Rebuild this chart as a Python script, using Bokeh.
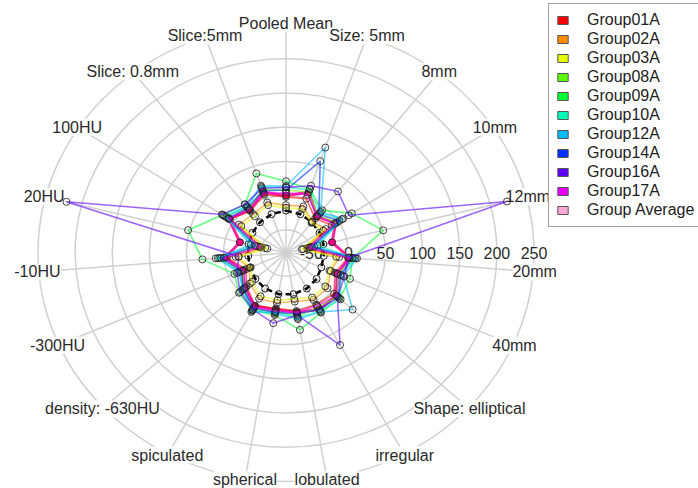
import math
from bokeh.plotting import figure
from bokeh.models import ColumnDataSource, Range1d, LabelSet, Legend, LegendItem
from bokeh.core.properties import value
from bokeh.embed import file_html
from bokeh.resources import INLINE

# ---------------- data ----------------
spokes = ["Pooled Mean", "Size: 5mm", "8mm", "10mm", "12mm", "20mm", "40mm",
          "Shape: elliptical", "irregular", "lobulated", "spherical", "spiculated",
          "density: -630HU", "-300HU", "-10HU", "20HU", "100HU", "Slice: 0.8mm", "Slice:5mm"]
radial_ticks = [-50, 0, 50, 100, 150, 200, 250]
radial_min = -84

group_names = ["Group01A", "Group02A", "Group03A", "Group08A", "Group09A", "Group10A",
               "Group12A", "Group14A", "Group16A", "Group17A", "Group Average"]
group_colors = ["#FF0000", "#FF8B00", "#E8FF00", "#5DFF00", "#00FF2E", "#00FFB9",
                "#00B9FF", "#002EFF", "#5D00FF", "#E800FF", "#FF008B"]

group01a = [-2, 0, -20, -10, -55, 0, -12, 4, 2, 2, -2, 4, -12, -25, -4, -50, 6, -6, 6]
group02a = [-14, -12, -26, -20, -60, -12, -18, -8, -6, -12, -10, -8, -18, -30, -16, -55, -8, -12, -6]
group03a = [-18, -16, -28, -24, -62, -16, -20, -12, -10, -16, -14, -12, -22, -32, -20, -58, -12, -16, -10]
group08a = [8, 10, -15, -2, -50, 8, -8, 10, 6, 10, 2, 10, -8, -20, 6, -45, 14, -2, 14]
group09a = [21, 15, -5, 22, 51, 6, 10, 14, 15, 30, 8, 11, 2, -8, 29, 52, 18, 6, 39]
group10a = [12, 14, -10, 6, -40, 10, -4, 16, 12, 12, 4, 14, -4, -16, 11, -40, 16, 2, 18]
group12a = [14, 79, -8, 8, -45, 12, 0, 38, 14, 14, 6, 12, -6, -14, 8, -35, 12, 2, 20]
group14a = [8, 58, -12, 2, -48, 6, -4, 12, 10, 6, 4, 8, -6, -18, 4, -42, 8, 0, 12]
group16a = [12, 20, 30, 17, 223, 0, 2, 10, 69, 8, 20, 10, 0, -12, -20, 221, 19, 6, 16]
group17a = [4, 6, -16, -6, -52, 2, -10, 8, 4, 4, 2, 6, -10, -22, 0, -48, 8, -4, 8]
group_average = [0, 10, -16, -4, -20, 2, -8, 8, 10, 4, 0, 4, -8, -20, -2, -20, 8, -4, 10]
pooled_reference = [-22, -24, -27, -30, -32, -33, -32, -28, -25, -23, -23, -25, -28, -31, -33, -32, -30, -27, -24]

series = [group01a, group02a, group03a, group08a, group09a, group10a,
          group12a, group14a, group16a, group17a, group_average]

# ---------------- geometry helpers ----------------
n = len(spokes)
theta = [2 * math.pi * i / n for i in range(n)]
r_max = radial_ticks[-1] - radial_min


def polar(vals, closed=True):
    xs = [(v - radial_min) * math.sin(t) for v, t in zip(vals, theta)]
    ys = [(v - radial_min) * math.cos(t) for v, t in zip(vals, theta)]
    if closed:
        xs.append(xs[0])
        ys.append(ys[0])
    return xs, ys


# screen scale: x 0.7425 px/unit, y 0.684 px/unit (stretched polar plot)
W, H = 698, 488
cx, cy = 285.5, 252.5
kx, ky = 0.7425, 0.684
p = figure(width=W, height=H, output_backend="svg", toolbar_location=None,
           x_range=Range1d(-cx / kx, (W - cx) / kx),
           y_range=Range1d(-(H - cy) / ky, cy / ky),
           min_border=0, min_border_left=0, min_border_right=0,
           min_border_top=0, min_border_bottom=0)
p.axis.visible = False
p.grid.visible = False
p.outline_line_color = None
p.background_fill_color = "white"
p.border_fill_color = "white"

font = "Liberation Sans"
grid_col = "#D0D0D0"
# grid circles
rad = [t - radial_min for t in radial_ticks]
p.ellipse(x=[0] * len(rad), y=[0] * len(rad), width=[2 * r for r in rad],
          height=[2 * r for r in rad], fill_color=None, line_color=grid_col,
          line_width=1.5, level="image")
# spokes
p.segment(x0=[0] * n, y0=[0] * n,
          x1=[r_max * math.sin(t) for t in theta],
          y1=[r_max * math.cos(t) for t in theta],
          line_color=grid_col, line_width=1.5, level="image")

# spoke labels
lab_r = r_max + 2
lab_src = ColumnDataSource(dict(x=[lab_r * math.sin(t) for t in theta],
                                y=[lab_r * math.cos(t) for t in theta],
                                text=spokes))
p.add_layout(LabelSet(x="x", y="y", text="text", source=lab_src,
                      text_align="center", text_baseline="middle",
                      text_font=value(font), text_font_size="16px",
                      text_color="#2A2A2A", background_fill_color="white",
                      level="underlay"))

# radial labels
rl_src = ColumnDataSource(dict(x=rad, y=[0] * len(rad), text=[str(t) for t in radial_ticks]))
p.add_layout(LabelSet(x="x", y="y", text="text", source=rl_src,
                      text_align="center", text_baseline="middle",
                      text_font=value(font), text_font_size="16px",
                      text_color="#2A2A2A", background_fill_color="white",
                      level="underlay"))

# pooled reference dashed line
xs, ys = polar(pooled_reference)
p.line(xs, ys, line_color="black", line_width=2.5, line_dash="6 4")
p.scatter(xs[:-1], ys[:-1], size=7, marker="circle", fill_color=None,
          line_color="#222222", line_width=1)

# group average first (thick), then groups
xs, ys = polar(group_average)
p.line(xs, ys, line_color=group_colors[-1], line_width=3, line_alpha=0.85)
p.scatter(xs[:-1], ys[:-1], size=7, marker="circle", fill_color=group_colors[-1],
          line_color="#222222", line_width=1)
for name, col, vals in zip(group_names[:-1], group_colors[:-1], series[:-1]):
    xs, ys = polar(vals)
    p.line(xs, ys, line_color=col, line_width=1.6, line_alpha=0.6)
    p.scatter(xs[:-1], ys[:-1], size=7, marker="circle", fill_color=None,
              line_color="#222222", line_width=1, line_alpha=0.85)

# legend swatches: renderers with no drawable position, used only for legend glyphs
nan = float("nan")
items = []
for name, col in zip(group_names, group_colors):
    alpha = 0.35 if name == "Group Average" else 1.0
    r = p.quad(left=[nan], right=[nan], top=[nan], bottom=[nan], fill_color=col,
               fill_alpha=alpha, line_color="#555555", line_width=1)
    items.append(LegendItem(label=name, renderers=[r]))

legend = Legend(items=items, location=(548, 261), padding=7, spacing=1,
                label_height=15, glyph_height=10, glyph_width=13, label_standoff=18,
                label_text_font=font, label_text_font_size="16px",
                label_text_color="#222222", border_line_color="#444444",
                border_line_width=1.5, background_fill_color="white",
                background_fill_alpha=1.0, margin=0)
p.add_layout(legend)

open("out.html", "w").write(file_html(p, INLINE))
